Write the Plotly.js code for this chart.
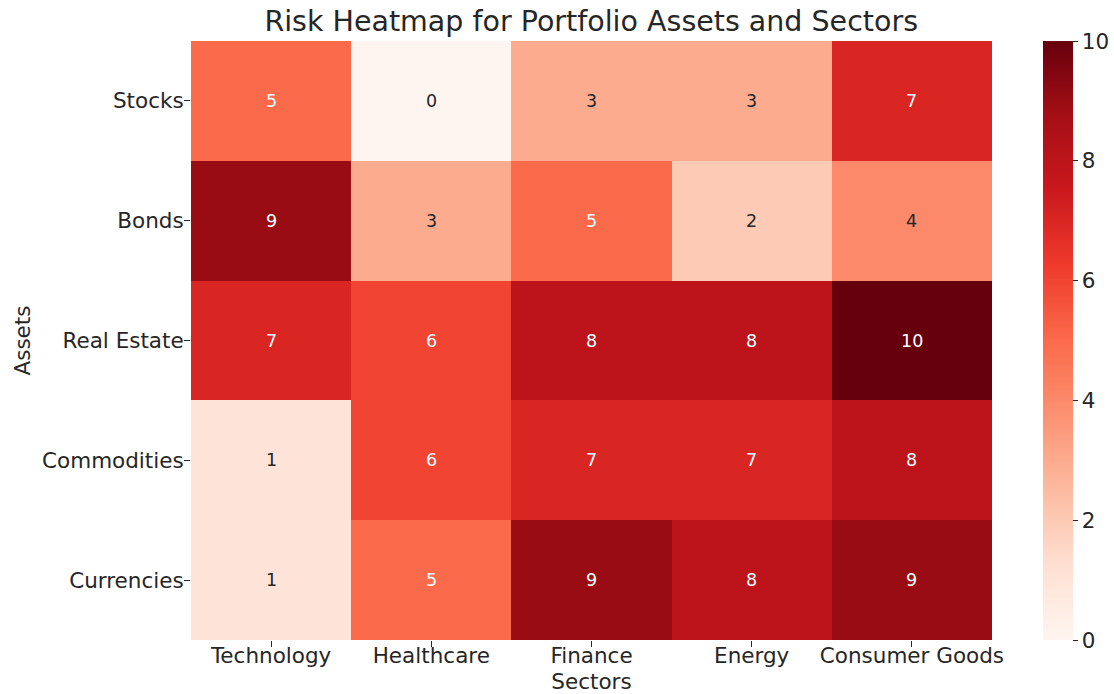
<!DOCTYPE html>
<html>
<head>
<meta charset="utf-8">
<script src="https://cdn.plot.ly/plotly-3.0.1.min.js"></script>
<style>
  html, body { margin: 0; padding: 0; background: #fff; }
  #chart { width: 1114px; height: 694px; }
</style>
</head>
<body>
<div id="chart"></div>
<script>
const sectors = ['Technology', 'Healthcare', 'Finance', 'Energy', 'Consumer Goods'];
const assets = ['Stocks', 'Bonds', 'Real Estate', 'Commodities', 'Currencies'];
const risk = [
    [5, 0, 3, 3, 7],
    [9, 3, 5, 2, 4],
    [7, 6, 8, 8, 10],
    [1, 6, 7, 7, 8],
    [1, 5, 9, 8, 9]
];
const colorTicks = [0, 2, 4, 6, 8, 10];

// matplotlib "Reds"
const reds = [
    [0.0, '#fff5f0'], [0.125, '#fee0d2'], [0.25, '#fcbba1'],
    [0.375, '#fc9272'], [0.5, '#fb6a4a'], [0.625, '#ef3b2c'],
    [0.75, '#cb181d'], [0.875, '#a50f15'], [1.0, '#67000d']
];

const textColor = '#262626';
const font = 'DejaVu Sans, sans-serif';

const trace = {
    type: 'heatmap',
    x: sectors,
    y: assets,
    z: risk,
    zmin: 0,
    zmax: 10,
    colorscale: reds,
    hoverongaps: false,
    colorbar: {
        x: 1.0637,
        xanchor: 'left',
        xpad: 0,
        y: 0,
        yanchor: 'bottom',
        len: 1,
        ypad: 0,
        thickness: 30,
        outlinewidth: 0,
        tickvals: colorTicks,
        ticks: 'outside',
        ticklen: 5,
        tickcolor: textColor,
        tickfont: { family: font, size: 21.5, color: textColor }
    }
};

// cell labels: white on dark cells, dark on light ones
const annotations = [];
assets.forEach((a, i) => {
    sectors.forEach((s, j) => {
        const v = risk[i][j];
        annotations.push({
            x: s, y: a, text: String(v), showarrow: false,
            font: { family: font, size: 17.5, color: v >= 5 ? '#ffffff' : textColor }
        });
    });
});

const layout = {
    width: 1114,
    height: 694,
    margin: { l: 191, r: 122, t: 41, b: 54, autoexpand: false },
    paper_bgcolor: '#ffffff',
    plot_bgcolor: '#ffffff',
    font: { family: font, color: textColor },
    title: {
        text: 'Risk Heatmap for Portfolio Assets and Sectors',
        font: { family: font, size: 28.5, color: textColor },
        x: 0.5307, xanchor: 'center',
        y: 1 - 21 / 694, yanchor: 'middle', yref: 'container'
    },
    xaxis: {
        title: { text: 'Sectors', font: { size: 21.5, color: textColor }, standoff: 9 },
        ticks: 'outside', ticklen: 6, tickcolor: textColor,
        ticklabelstandoff: -10,
        tickfont: { size: 21.5, color: textColor },
        showgrid: false, zeroline: false, showline: false
    },
    yaxis: {
        title: { text: 'Assets', font: { size: 21.5, color: textColor }, standoff: 5 },
        autorange: 'reversed',
        ticks: 'outside', ticklen: 6, tickcolor: textColor,
        ticklabelstandoff: -4,
        tickfont: { size: 21.5, color: textColor },
        showgrid: false, zeroline: false, showline: false
    },
    annotations: annotations
};

Plotly.newPlot('chart', [trace], layout, { displayModeBar: false });
</script>
</body>
</html>
